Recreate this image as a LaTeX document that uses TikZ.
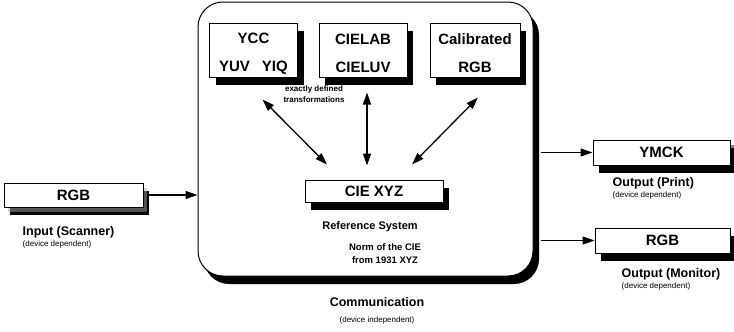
\documentclass[tikz,border=0pt]{standalone}
\usepackage{fontspec}
\setmainfont{Liberation Sans}
\usetikzlibrary{arrows.meta,shadows,positioning}
\newcommand{\devnote}[1]{{\fontsize{8}{9}\selectfont(device #1)}}
\newcommand{\toprow}{\rule{0pt}{17pt}}

\begin{document}
\begin{tikzpicture}[x=1pt,y=-1pt,
  font=\bfseries,
  box/.style={draw,line width=1pt,fill=white,inner sep=0pt,align=center,
    font=\fontsize{15}{16}\selectfont\bfseries,
    drop shadow={shadow xshift=6pt,shadow yshift=-8pt,opacity=1,fill=black}},
  conn/.style={line width=1.2pt,-{Triangle[length=12pt,width=8pt]}},
  both/.style={line width=1.3pt,{Triangle[length=12pt,width=8pt]}-{Triangle[length=12pt,width=8pt]}}]
\tikzstyle{caption}=[inner sep=0pt,anchor=north west,font=\fontsize{12.5}{14}\selectfont\bfseries]
\useasboundingbox (0,0) rectangle (734,332);
\node[box,rounded corners=25pt,minimum width=335pt,minimum height=274pt] (comm) at (365.5,139) {};
\node[box,minimum width=88pt,minimum height=54pt] (ycc) at (253.5,50) {\toprow YCC\\[12pt]YUV\hspace{12pt}YIQ};
\node[box,minimum width=88pt,minimum height=54pt] (cielab) at (363,50) {\toprow CIELAB\\[12pt]CIELUV};
\node[box,minimum width=90pt,minimum height=54pt] (calib) at (475,50) {\toprow Calibrated\\[12pt]RGB};
\node[box,minimum width=138pt,minimum height=22pt] (xyz) at (374,191) {CIE XYZ};
\node[box,minimum width=139pt,minimum height=24pt,drop shadow={shadow xshift=4pt,shadow yshift=-5pt,fill=gray!70}] (rgbin) at (73.5,195) {RGB};
\node[box,minimum width=137pt,minimum height=25pt,drop shadow={shadow xshift=6pt,shadow yshift=-5pt,fill=black}] (ymck) at (661.5,152.5) {YMCK};
\node[box,minimum width=135pt,minimum height=25pt] (rgbout) at (662.5,240.5) {RGB};
% texts inside the reference system
\node[align=center,font=\fontsize{8}{11}\selectfont\bfseries] (trans) at (314,94) {exactly defined\\transformations};
\node[font=\fontsize{11}{13}\selectfont\bfseries] (refsys) at (370,227) {Reference System};
\node[align=center,font=\fontsize{9.5}{13}\selectfont\bfseries] (norm) at (385,254) {Norm of the CIE\\from 1931 XYZ};
\node[font=\fontsize{12.5}{14}\selectfont\bfseries] (commname) at (377,302) {Communication};
\node[font=\mdseries] (commnote) at (377,320) {\devnote{independent}};
% captions of the devices
\node[caption,below right=19pt and 19pt of rgbin.south west] (inname) {Input (Scanner)};
\node[caption,below=2pt of inname.south west,anchor=north west,font=\mdseries] (innote) {\devnote{dependent}};
\node[caption,below right=12pt and 20pt of ymck.south west] (printname) {Output (Print)};
\node[caption,below=2pt of printname.south west,anchor=north west,font=\mdseries] (printnote) {\devnote{dependent}};
\node[caption,below right=15pt and 27pt of rgbout.south west] (monname) {Output (Monitor)};
\node[caption,below=2pt of monname.south west,anchor=north west,font=\mdseries] (monnote) {\devnote{dependent}};
% connections
\draw[conn] ([xshift=4pt]rgbin.east) -- (rgbin.east -| comm.west);
\draw[conn] ([xshift=7pt]comm.east |- ymck.west) -- (ymck.west);
\draw[conn] ([xshift=7pt]comm.east |- rgbout.west) -- (rgbout.west);
\draw[both] ([shift={(9,22)}]ycc.south) -- ([shift={(-47,-15)}]xyz.north);
\draw[both] ([shift={(4,15)}]cielab.south) -- ([shift={(-7,-14)}]xyz.north);
\draw[both] ([shift={(3,20)}]calib.south) -- ([shift={(38,-15)}]xyz.north);
\end{tikzpicture}
\end{document}
